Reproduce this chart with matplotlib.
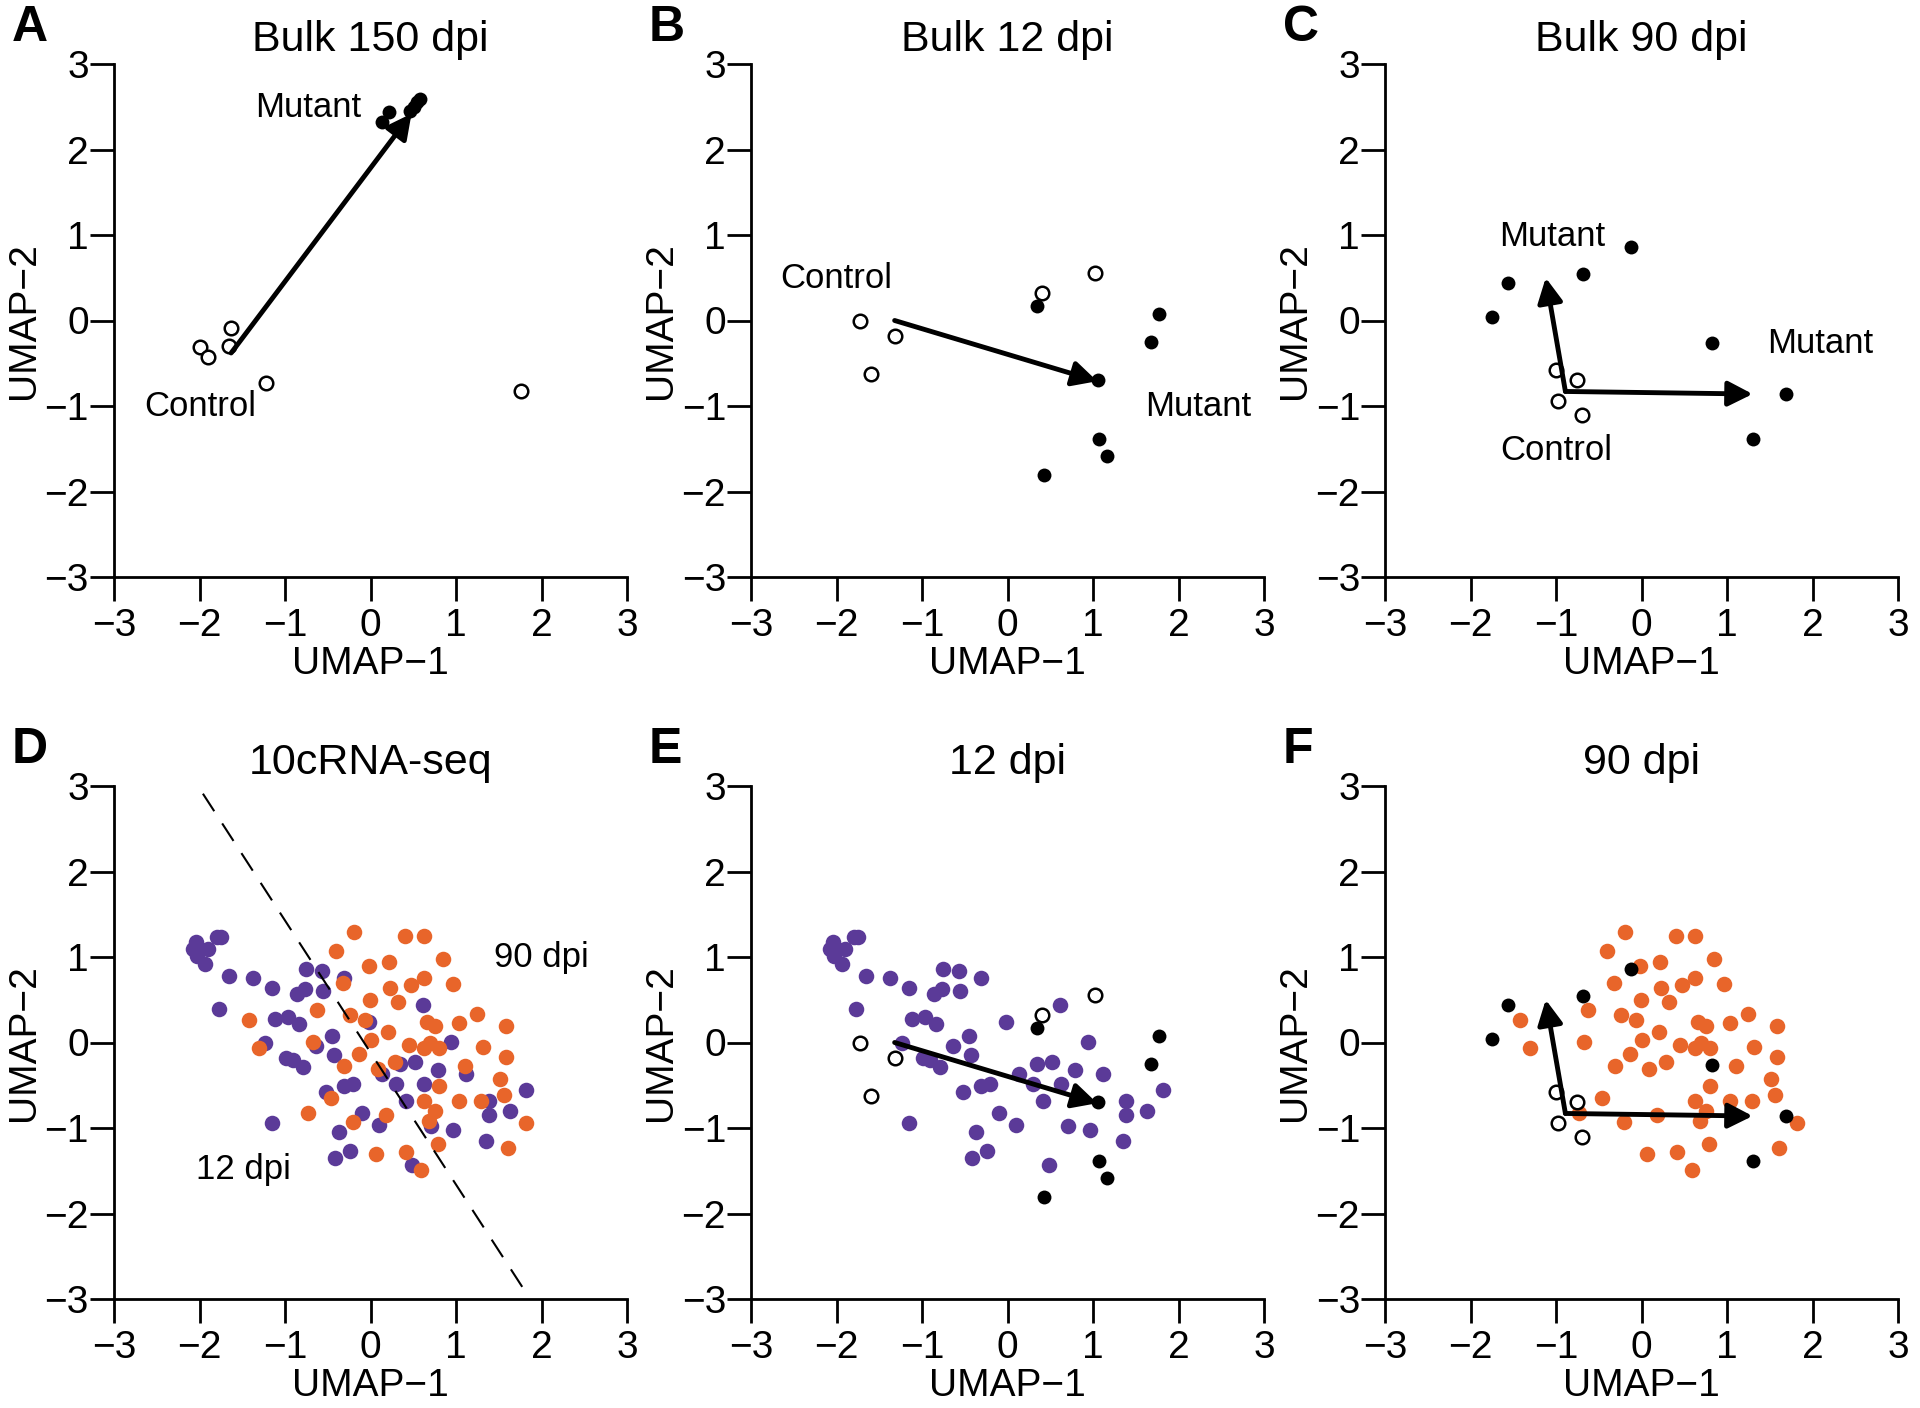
import matplotlib.pyplot as plt

plt.rcParams['font.family'] = ['Liberation Sans', 'DejaVu Sans']

# Bulk 150 dpi (panel A)
a_ctrl_x = [-1.63, -1.99, -1.90, -1.66, -1.22, 1.76]
a_ctrl_y = [-0.09, -0.31, -0.43, -0.30, -0.73, -0.83]
a_mut_x = [0.13, 0.22, 0.46, 0.51, 0.58, 0.54]
a_mut_y = [2.32, 2.44, 2.45, 2.50, 2.59, 2.55]
a_arrows = [((-1.63, -0.38), (0.48, 2.42))]

# Bulk 12 dpi (panels B, E)
b_ctrl_x = [-1.73, -1.32, -1.60, 0.40, 1.02]
b_ctrl_y = [0.00, -0.18, -0.63, 0.32, 0.56]
b_mut_x = [0.34, 1.77, 1.68, 1.06, 1.07, 1.16, 0.43]
b_mut_y = [0.17, 0.08, -0.25, -0.70, -1.39, -1.58, -1.81]
b_arrows = [((-1.32, 0.0), (1.05, -0.71))]

# Bulk 90 dpi (panels C, F)
c_ctrl_x = [-1.00, -0.76, -0.98, -0.70]
c_ctrl_y = [-0.58, -0.70, -0.94, -1.11]
c_mut_x = [-1.75, -1.56, -0.68, -0.12, 0.82, 1.69, 1.30]
c_mut_y = [0.04, 0.44, 0.54, 0.86, -0.26, -0.86, -1.39]
c_arrows = [((-0.89, -0.83), (-1.12, 0.50)), ((-0.89, -0.83), (1.30, -0.86))]

# 10c RNA-seq, 12 dpi cells
purple_x = [-2.04, -2.08, -2.03, -1.90, -1.80, -1.75, -1.94, -1.66, -1.38, -1.77,
            -1.15, -1.12, -0.97, -0.84, -1.23, -0.99, -0.91, -0.79, -0.86, -0.77,
            -0.75, -0.57, -0.56, -0.31, -1.15, -0.64, -0.45, -0.43, -0.52, -0.31,
            -0.20, -0.37, -0.41, -0.24, -0.10, -0.02, 0.10, 0.14, 0.30, 0.35,
            0.42, 0.52, 0.49, 0.63, 0.61, 0.71, 0.79, 0.94, 0.97, 1.12,
            1.39, 1.39, 1.35, 1.63, 1.82]
purple_y = [1.17, 1.09, 1.01, 1.09, 1.23, 1.23, 0.92, 0.78, 0.76, 0.39,
            0.64, 0.27, 0.30, 0.22, -0.01, -0.18, -0.20, -0.29, 0.57, 0.63,
            0.86, 0.84, 0.60, 0.75, -0.94, -0.04, 0.08, -0.15, -0.58, -0.51,
            -0.48, -1.05, -1.35, -1.27, -0.83, 0.24, -0.97, -0.37, -0.49, -0.25,
            -0.69, -0.23, -1.43, -0.49, 0.44, -0.98, -0.32, 0.01, -1.02, -0.37,
            -0.69, -0.85, -1.15, -0.80, -0.55]

# 10c RNA-seq, 90 dpi cells
orange_x = [-0.19, 0.40, 0.63, -0.40, 0.85, -0.02, 0.22, -0.32, 0.23, 0.47,
            0.62, 0.97, -0.01, 0.32, -0.63, -0.24, -0.07, -1.42, 0.66, 0.75,
            1.04, 1.25, 1.58, -0.67, -1.30, 0.01, 0.20, 0.45, 0.62, 0.70,
            0.80, 1.32, 1.58, -0.13, -0.31, 0.09, 0.29, 1.10, 0.80, 1.51,
            1.56, -0.46, 0.63, 1.04, 1.29, -0.73, -0.21, 0.18, 0.68, 0.75,
            1.82, 0.79, 1.61, 0.06, 0.42, 0.59]
orange_y = [1.29, 1.25, 1.24, 1.07, 0.98, 0.90, 0.94, 0.70, 0.64, 0.67,
            0.76, 0.68, 0.50, 0.47, 0.38, 0.32, 0.26, 0.26, 0.24, 0.19,
            0.23, 0.33, 0.19, 0.01, -0.06, 0.03, 0.12, -0.03, -0.06, -0.01,
            -0.06, -0.05, -0.17, -0.13, -0.28, -0.31, -0.23, -0.27, -0.51, -0.43,
            -0.61, -0.65, -0.69, -0.68, -0.68, -0.82, -0.93, -0.85, -0.92, -0.80,
            -0.94, -1.19, -1.23, -1.30, -1.28, -1.49]

# dashed separator in D
sep_x = [-1.96, 1.86]
sep_y = [2.91, -2.99]

purple = '#5b3a98'
orange = '#e8652a'

fig = plt.figure(figsize=(19.2, 14.08), dpi=100)
fig.set_facecolor('white')

lefts = [114 / 1920, 751 / 1920, 1385 / 1920]
bottoms = [1 - 577 / 1408, 1 - 1299 / 1408]
w, h = 513 / 1920, 513 / 1408


def make_ax(col, row, letter, title):
    ax = fig.add_axes([lefts[col], bottoms[row], w, h])
    ax.set_xlim(-3, 3)
    ax.set_ylim(-3, 3)
    ax.spines['top'].set_visible(False)
    ax.spines['right'].set_visible(False)
    ax.spines['left'].set_linewidth(2)
    ax.spines['bottom'].set_linewidth(2)
    ax.set_xticks(range(-3, 4))
    ax.set_yticks(range(-3, 4))
    ax.tick_params(direction='out', length=17, width=2, labelsize=28)
    ax.tick_params(axis='y', pad=1)
    ax.tick_params(axis='x', pad=5)
    ax.set_xlabel('UMAP−1', fontsize=28)
    ax.set_ylabel('UMAP−2', fontsize=28)
    ax.xaxis.set_label_coords(0.5, -0.135)
    ax.yaxis.set_label_coords(-0.14, 0.5)
    ax.set_title(title, fontsize=31, pad=9)
    fx = (12 if col == 0 else (649 if col == 1 else 1283)) / 1920
    fy = 1 - (5 if row == 0 else 727) / 1408
    fig.text(fx, fy, letter, fontsize=36, fontweight='bold', va='top', ha='left')
    return ax


def bulk(ax, cx, cy, mx, my, arrows):
    ax.scatter(cx, cy, s=95, facecolor='white', edgecolor='black', linewidth=1.8, zorder=4, clip_on=False)
    ax.scatter(mx, my, s=100, facecolor='black', edgecolor='black', linewidth=0, zorder=4, clip_on=False)
    for start, end in arrows:
        ax.annotate('', xy=end, xytext=start,
                    arrowprops=dict(arrowstyle='-|>,head_length=0.55,head_width=0.28',
                                    mutation_scale=27, lw=3.5, color='black',
                                    shrinkA=0, shrinkB=0), zorder=5)


def cells(ax, xs, ys, color):
    ax.scatter(xs, ys, s=125, color=color, linewidth=0, zorder=3)


# A
ax = make_ax(0, 0, 'A', 'Bulk 150 dpi')
bulk(ax, a_ctrl_x, a_ctrl_y, a_mut_x, a_mut_y, a_arrows)
ax.text(-0.73, 2.49, 'Mutant', fontsize=25, ha='center', va='center')
ax.text(-1.99, -1.0, 'Control', fontsize=25, ha='center', va='center')

# B
ax = make_ax(1, 0, 'B', 'Bulk 12 dpi')
bulk(ax, b_ctrl_x, b_ctrl_y, b_mut_x, b_mut_y, b_arrows)
ax.text(-2.0, 0.49, 'Control', fontsize=25, ha='center', va='center')
ax.text(2.23, -1.01, 'Mutant', fontsize=25, ha='center', va='center')

# C
ax = make_ax(2, 0, 'C', 'Bulk 90 dpi')
bulk(ax, c_ctrl_x, c_ctrl_y, c_mut_x, c_mut_y, c_arrows)
ax.text(-1.05, 0.98, 'Mutant', fontsize=25, ha='center', va='center')
ax.text(2.09, -0.27, 'Mutant', fontsize=25, ha='center', va='center')
ax.text(-1.0, -1.52, 'Control', fontsize=25, ha='center', va='center')

# D
ax = make_ax(0, 1, 'D', '10cRNA-seq')
cells(ax, purple_x, purple_y, purple)
cells(ax, orange_x, orange_y, orange)
ax.plot(sep_x, sep_y, color='black', lw=1.5, linestyle=(0, (10, 7)), zorder=4)
ax.text(2.0, 1.0, '90 dpi', fontsize=25, ha='center', va='center')
ax.text(-1.49, -1.48, '12 dpi', fontsize=25, ha='center', va='center')

# E
ax = make_ax(1, 1, 'E', '12 dpi')
cells(ax, purple_x, purple_y, purple)
bulk(ax, b_ctrl_x, b_ctrl_y, b_mut_x, b_mut_y, b_arrows)

# F
ax = make_ax(2, 1, 'F', '90 dpi')
cells(ax, orange_x, orange_y, orange)
bulk(ax, c_ctrl_x, c_ctrl_y, c_mut_x, c_mut_y, c_arrows)

plt.savefig('out.png', dpi=100)
